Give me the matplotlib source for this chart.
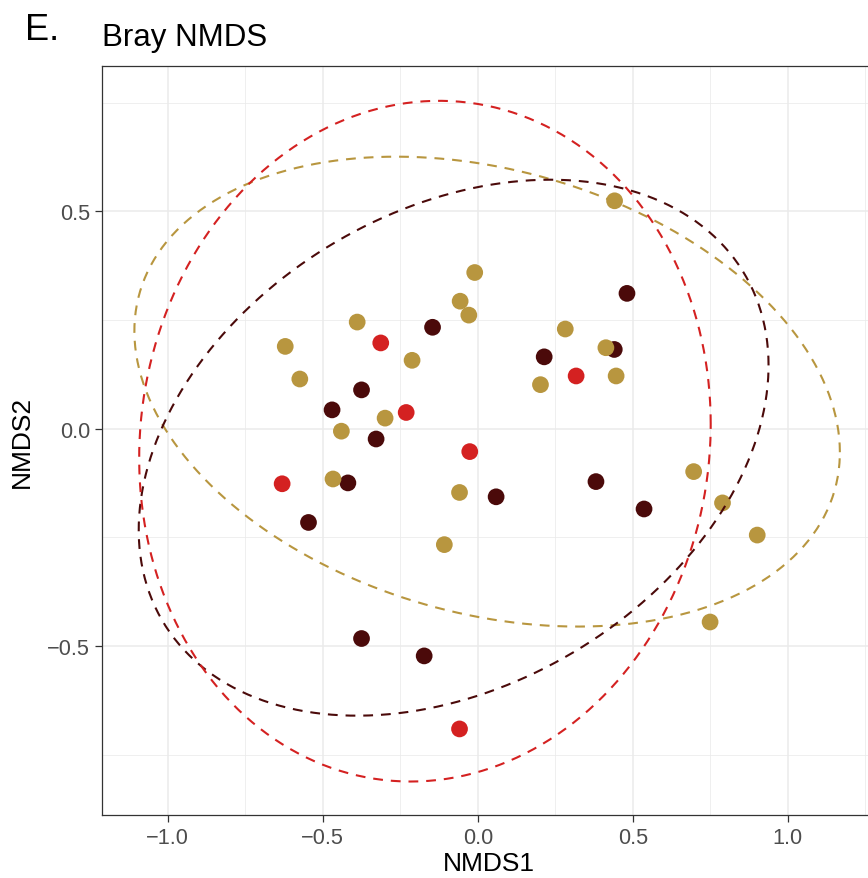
import numpy as np
import matplotlib
matplotlib.use("Agg")
import matplotlib.pyplot as plt
from matplotlib.ticker import MultipleLocator

plt.rcParams['font.family'] = ['Liberation Sans', 'DejaVu Sans']

# ---- data ----
groups = ["gold", "dark", "red"]
colors = {"gold": "#B8963F", "dark": "#4B0A0A", "red": "#D42121"}

gold_x = [0.441, -0.010, -0.057, -0.029, -0.389, 0.282, -0.621, -0.212, 0.413, 0.446,
          0.202, -0.574, -0.299, -0.440, -0.467, -0.059, -0.108, 0.696, 0.789, 0.901, 0.749]
gold_y = [0.524, 0.359, 0.293, 0.261, 0.245, 0.229, 0.189, 0.157, 0.186, 0.121,
          0.101, 0.114, 0.024, -0.006, -0.116, -0.147, -0.267, -0.099, -0.171, -0.245, -0.445]

dark_x = [0.481, -0.146, 0.214, 0.440, -0.375, -0.470, -0.328, -0.419, -0.546, 0.059,
          0.381, 0.536, -0.375, -0.173]
dark_y = [0.311, 0.233, 0.165, 0.182, 0.089, 0.043, -0.024, -0.125, -0.216, -0.157,
          -0.122, -0.185, -0.483, -0.523]

red_x = [-0.313, 0.317, -0.231, -0.026, -0.631, -0.059]
red_y = [0.197, 0.121, 0.037, -0.053, -0.127, -0.691]

# ellipse parameters: centre, x half-range, y half-range, skew phase (radians)
ell_group = ["gold", "dark", "red"]
ell_cx = [0.030, -0.078, -0.1705]
ell_cy = [0.085, -0.044, -0.029]
ell_ax = [1.1375, 1.0155, 0.9215]
ell_by = [0.5405, 0.6165, 0.783]
ell_phi = [np.arcsin(-0.258), np.arcsin(0.307), np.arcsin(0.050)]

x_ticks = [-1.0, -0.5, 0.0, 0.5, 1.0]
x_ticklabels = ["\u22121.0", "\u22120.5", "0.0", "0.5", "1.0"]
y_ticks = [-0.5, 0.0, 0.5]
y_ticklabels = ["\u22120.5", "0.0", "0.5"]

# ---- figure ----
W, H = 868, 879
fig = plt.figure(figsize=(W / 100, H / 100), dpi=100)
left_px, right_px, top_px, bottom_px = 102.4, 876.0, 67.3, 816.0
ax = fig.add_axes([left_px / W, 1 - bottom_px / H,
                   (right_px - left_px) / W, (bottom_px - top_px) / H])
ax.set_xlim(-1.2106, 1.284)
ax.set_ylim(-0.889, 0.8334)

ax.set_facecolor("white")
ax.xaxis.set_major_locator(MultipleLocator(0.5))
ax.yaxis.set_major_locator(MultipleLocator(0.5))
ax.xaxis.set_minor_locator(MultipleLocator(0.25))
ax.yaxis.set_minor_locator(MultipleLocator(0.25))
ax.grid(which="major", color="#EBEBEB", linewidth=1.1, zorder=0)
ax.grid(which="minor", color="#EBEBEB", linewidth=0.55, zorder=0)
ax.set_axisbelow(True)
ax.tick_params(which="minor", length=0)
ax.tick_params(which="major", length=5, width=0.9, color="#333333",
               labelsize=15.7, labelcolor="#4D4D4D", pad=4.0)
ax.set_xticks(x_ticks)
ax.set_xticklabels(x_ticklabels)
ax.set_yticks(y_ticks)
ax.set_yticklabels(y_ticklabels)
for s in ax.spines.values():
    s.set_color("#333333")
    s.set_linewidth(0.9)

pts = {"gold": (gold_x, gold_y), "dark": (dark_x, dark_y), "red": (red_x, red_y)}
for g in ["dark", "red", "gold"]:
    xs, ys = pts[g]
    ax.scatter(xs, ys, s=145, color=colors[g], edgecolors="none", zorder=3)

t = np.linspace(0, 2 * np.pi, 400)
for g, cx, cy, a, b, p in zip(ell_group, ell_cx, ell_cy, ell_ax, ell_by, ell_phi):
    ex = cx + a * np.cos(t)
    ey = cy + b * np.sin(t + p)
    ax.plot(ex, ey, color=colors[g], linewidth=1.5, linestyle=(0, (4.7, 3.8)), zorder=4)

ax.set_xlabel("NMDS1", fontsize=19, color="black", labelpad=2)
ax.set_ylabel("NMDS2", fontsize=19, color="black", labelpad=9.5)

fig.text(left_px / W, 1 - 46 / H, "Bray NMDS", fontsize=22.5, ha="left", va="baseline")
fig.text(25 / W, 1 - 39.5 / H, "E.", fontsize=26, ha="left", va="baseline")

fig.savefig("out.png", dpi=100)
